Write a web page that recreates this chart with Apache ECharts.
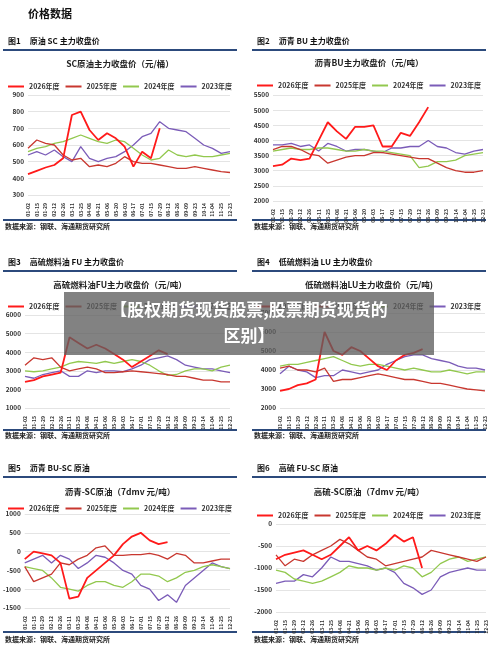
<!DOCTYPE html>
<html>
<head>
<meta charset="utf-8">
<script src="https://cdn.jsdelivr.net/npm/echarts@6/dist/echarts.min.js"></script>
<style>html,body{margin:0;padding:0;background:#fff}#main{width:500px;height:647px}</style>
</head>
<body>
<div id="main"></div>
<script>
// shared date ticks
const dates = ["01-02","01-15","01-29","02-12","02-26","03-11","03-25","04-08","04-21","05-06","05-20","06-03","06-17","07-01","07-15","07-29","08-12","08-26","09-09","09-23","10-14","11-04","11-25","12-23"];
const years = ["2026年度", "2025年度", "2024年度", "2023年度"];
const colors = ["#ff1a1a", "#c8372f", "#92c84e", "#7b5cb8"];

// 图1 SC
const sc2026 = [425,445,465,480,520,780,800,690,630,670,640,590,470,560,520,700];
const sc2025 = [580,630,610,600,540,510,520,470,480,470,490,530,500,490,490,480,470,460,460,470,460,450,440,435];
const sc2024 = [560,580,590,610,620,640,660,640,620,610,630,620,580,540,510,520,570,540,530,540,530,530,540,550];
const sc2023 = [540,560,540,570,530,500,590,520,500,520,530,560,600,650,670,740,700,690,680,640,600,580,550,560];
// 图2 BU
const bu2026 = [3150,3200,3400,3350,3400,4000,4600,4300,4050,4450,4450,4500,3800,3800,4250,4150,4600,5100];
const bu2025 = [3700,3800,3800,3700,3550,3500,3250,3350,3450,3500,3500,3600,3600,3550,3500,3450,3400,3400,3250,3100,3000,2950,2950,3000];
const bu2024 = [3650,3700,3750,3700,3700,3750,3750,3700,3650,3650,3700,3650,3650,3600,3550,3500,3100,3150,3300,3300,3350,3500,3550,3600];
const bu2023 = [3850,3850,3900,3800,3850,3650,3900,3800,3650,3700,3700,3650,3600,3750,3750,3800,3800,4000,3800,3750,3600,3550,3650,3700];
// 图3 FU
const fu2026 = [2400,2500,2700,2800,2900,4800,4500,4200,4400,4200,3900,3600,3200,3500,3800,4100,3900];
const fu2025 = [3300,3700,3600,3700,3200,3000,3100,3200,3100,2900,2900,2950,3000,2950,2900,2850,2800,2700,2700,2600,2500,2500,2400,2400];
const fu2024 = [3000,2950,3000,3100,3200,3400,3500,3450,3400,3500,3400,3500,3600,3500,3300,3000,2750,2800,3000,3100,3100,3000,3200,3300];
const fu2023 = [2700,2600,2800,2900,3000,2700,2700,3000,2900,3000,3000,2950,3100,3300,3600,3700,3800,3600,3300,3200,3100,3100,3000,2900];
// 图4 LU
const lu2026 = [2900,3000,3200,3300,3500,6000,5000,4800,5200,5000,4600,4200,4000,4500,4800,4900,5100];
const lu2025 = [4100,4200,4000,4000,3900,4100,3400,3500,3500,3600,3700,3800,3700,3600,3500,3500,3400,3300,3300,3200,3100,3000,2950,2900];
const lu2024 = [4200,4300,4300,4400,4500,4600,4700,4500,4300,4200,4300,4300,4200,4100,4000,4100,4000,3900,3900,4000,3900,3800,3900,3900];
const lu2023 = [3800,4200,4000,3900,3600,3700,3700,4000,3900,3800,3900,4000,4300,4500,4700,4800,4800,4600,4500,4400,4200,4100,4100,4000];
// 图5 BU-SC
const bs2026 = [-200,0,-50,-100,-300,-1250,-1200,-700,-500,-300,-100,200,400,500,300,200,250];
const bs2025 = [-400,-800,-700,-600,-300,-350,-200,-100,100,150,-100,-100,-80,-80,-50,-100,-200,-50,-100,-300,-300,-250,-200,-200];
const bs2024 = [-400,-450,-500,-700,-950,-1000,-1050,-900,-800,-800,-900,-950,-800,-600,-600,-650,-800,-700,-550,-500,-400,-350,-400,-450];
const bs2023 = [-300,-200,-100,-300,-100,-200,-450,-300,-100,-150,-300,-500,-600,-900,-1000,-1300,-1150,-1350,-900,-700,-500,-300,-400,-450];
// 图6 FU-SC
const fs2026 = [-800,-700,-650,-600,-700,-800,-700,-500,-300,-600,-500,-600,-450,-250,-400,-300,-1000];
const fs2025 = [-700,-950,-800,-850,-700,-600,-500,-350,-450,-600,-750,-800,-950,-900,-850,-800,-750,-600,-650,-700,-750,-800,-850,-750];
const fs2024 = [-1050,-1100,-1250,-1300,-1350,-1300,-1200,-1100,-950,-1000,-1000,-1050,-1000,-1050,-950,-1000,-1200,-1100,-900,-800,-750,-850,-800,-750];
const fs2023 = [-1350,-1300,-1300,-1150,-1200,-1000,-750,-850,-850,-900,-950,-1050,-1000,-1100,-1350,-1450,-1600,-1500,-1200,-1100,-1050,-1000,-1050,-1050];

const panels = [
  { head: "图1     原油 SC 主力收盘价", title: "SC原油主力收盘价（元/桶）", data: [sc2026, sc2025, sc2024, sc2023], min: 300, max: 900, step: 100,
    grid: [28, 95, 202, 100], hx: 3, hy: 43, ty: 64, ly: 83 },
  { head: "图2     沥青 BU 主力收盘价", title: "沥青BU主力收盘价（元/吨）", data: [bu2026, bu2025, bu2024, bu2023], min: 2000, max: 5500, step: 500,
    grid: [273, 95, 210, 106], hx: 252, hy: 43, ty: 63, ly: 82 },
  { head: "图3     高硫燃料油 FU 主力收盘价", title: "高硫燃料油FU主力收盘价（元/吨）", data: [fu2026, fu2025, fu2024, fu2023], min: 1000, max: 6000, step: 1000,
    grid: [25, 315, 205, 93], hx: 3, hy: 264, ty: 285, ly: 303 },
  { head: "图4     低硫燃料油 LU 主力收盘价", title: "低硫燃料油LU主力收盘价（元/吨)", data: [lu2026, lu2025, lu2024, lu2023], min: 2000, max: 7000, step: 1000,
    grid: [280, 313, 205, 95], hx: 252, hy: 264, ty: 285, ly: 303 },
  { head: "图5     沥青 BU-SC 原油", title: "沥青-SC原油（7dmv 元/吨）", data: [bs2026, bs2025, bs2024, bs2023], min: -1500, max: 1000, step: 500,
    grid: [22, 514, 208, 94], hx: 3, hy: 470, ty: 492, ly: 505 },
  { head: "图6     高硫 FU-SC 原油", title: "高硫-SC原油（7dmv 元/吨）", data: [fs2026, fs2025, fs2024, fs2023], min: -2000, max: 0, step: 500,
    grid: [276, 524, 210, 88], hx: 252, hy: 470, ty: 492, ly: 512 }
];

const font = "'Noto Sans CJK SC', sans-serif";
const option = { animation: false, textStyle: { fontFamily: font }, grid: [], xAxis: [], yAxis: [], legend: [], series: [], graphic: [] };

const g = option.graphic;
g.push({ type: "text", left: 28, top: 8, style: { text: "价格数据", font: "bold 11px " + font, fill: "#111" } });

panels.forEach((p, i) => {
  const [l, t, w, h] = p.grid;
  const cx = p.hx + 117;
  option.grid.push({ left: l, top: t, width: w, height: h });
  option.xAxis.push({ type: "category", gridIndex: i, data: dates, boundaryGap: false,
    axisLine: { show: false }, axisTick: { show: false },
    axisLabel: { rotate: 90, interval: 0, fontSize: 5, color: "#333", fontWeight: "bold" } });
  option.yAxis.push({ type: "value", gridIndex: i, min: p.min, max: p.max, interval: p.step,
    axisLabel: { fontSize: 6.5, color: "#333", fontWeight: "bold", margin: 4, formatter: v => String(v) },
    splitLine: { lineStyle: { color: "#e4e4e4" } } });
  option.legend.push({ data: years, left: cx - 117, width: 234, top: p.ly - 5, itemWidth: 16, itemHeight: 2, itemGap: 6,
    icon: "rect", itemStyle: { borderWidth: 0 }, textStyle: { fontSize: 7, fontWeight: "bold", color: "#333" } });
  p.data.forEach((d, k) => {
    option.series.push({ type: "line", name: years[k], xAxisIndex: i, yAxisIndex: i, data: d, symbol: "none", legendIcon: "rect",
      z: 5 - k, lineStyle: { color: colors[k], width: k === 0 ? 1.8 : 1.3 }, itemStyle: { color: colors[k] } });
  });
  g.push({ type: "text", left: p.hx + 5, top: p.hy - 6, style: { text: p.head, font: "bold 8px " + font, fill: "#111" } });
  g.push({ type: "line", shape: { x1: p.hx, y1: p.hy + 7, x2: p.hx + 234, y2: p.hy + 7 }, style: { stroke: "#2c4a7c", lineWidth: 2 } });
  g.push({ type: "text", x: cx, y: p.ty, style: { text: p.title, font: "bold 8.5px " + font, fill: "#222", align: "center", verticalAlign: "middle" } });
});

// bottom rules and source notes
[[220, 228], [430, 437], [632, 641]].forEach(([ly, sy]) => {
  [3, 252].forEach(x => {
    g.push({ type: "line", shape: { x1: x, y1: ly, x2: x + 234, y2: ly }, style: { stroke: "#2c4a7c", lineWidth: 2 } });
    g.push({ type: "text", left: x + 2, top: sy - 5, style: { text: "数据来源：钢联、海通期货研究所", font: "bold 7px " + font, fill: "#222" } });
  });
});

// overlay banner
g.push({ type: "rect", shape: { x: 64, y: 292, width: 370, height: 63 }, style: { fill: "rgba(95,95,95,0.78)" }, z: 100 });
g.push({ type: "text", x: 249, y: 310, z: 101, style: { text: "【股权期货现货股票,股票期货现货的", font: "bold 17px " + font, fill: "#fff", align: "center", verticalAlign: "middle" } });
g.push({ type: "text", x: 249, y: 336, z: 101, style: { text: "区别】", font: "bold 17px " + font, fill: "#fff", align: "center", verticalAlign: "middle" } });

echarts.init(document.getElementById("main")).setOption(option);
</script>
</body>
</html>
